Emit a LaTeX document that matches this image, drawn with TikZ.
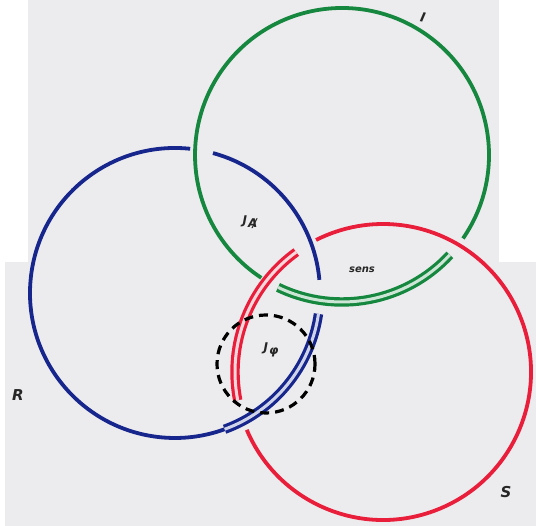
\documentclass[tikz,border=0pt]{standalone}
\usepackage{fontspec}
\newfontfamily\lab{DejaVu Sans}
\definecolor{kgreen}{RGB}{22,135,62}
\definecolor{kblue}{RGB}{22,38,140}
\definecolor{kred}{RGB}{232,30,58}
\definecolor{paper}{RGB}{236,236,238}
\tikzset{
  strand/.style={line width=3.8pt},
  twin/.style={line width=3.2pt, double distance=3pt},
  lbl/.style={inner sep=0pt, text=black!85},
  cutdash/.style={line width=3.2pt, dash pattern=on 9pt off 6pt, black},
}
\begin{document}
\begin{tikzpicture}[x=1pt,y=1pt]
\useasboundingbox (0,0) rectangle (536,526);
\fill[white] (0,0) rectangle (536,526);
\fill[paper] (28,264) rectangle (499,526);
\fill[paper] (5,0) rectangle (536,264);
\coordinate (G) at (342,371);
\coordinate (B) at (175,233);
\coordinate (R) at (383,154);
\coordinate (D) at (266,162);

% green ring (I)
\draw[strand,kgreen] ([shift={(-34.6:147)}]G) arc[start angle=-34.6,end angle=236.7,radius=147];
\draw[twin,draw=kgreen,double=kgreen!22!white] ([shift={(244.2:147)}]G) arc[start angle=244.2,end angle=317.2,radius=147];

% blue ring (R)
\draw[strand,kblue] ([shift={(5.2:145)}]B) arc[start angle=5.2,end angle=74.8,radius=145];
\draw[strand,kblue] ([shift={(84:145)}]B) arc[start angle=84,end angle=290,radius=145];
\draw[twin,draw=kblue,double=kblue!20!white] ([shift={(290:145)}]B) arc[start angle=290,end angle=351.7,radius=145];

% red ring (S)
\draw[strand,kred] ([shift={(203:148)}]R) arc[start angle=203,end angle=476.9,radius=148];
\draw[twin,draw=kred,double=kred!18!white] ([shift={(125.9:148)}]R) arc[start angle=125.9,end angle=191,radius=148];

% dashed circle
\draw[cutdash] (D) circle[radius=49];

% labels
\node[lbl,font=\lab\bfseries\itshape\fontsize{15}{15}\selectfont] (lR) at (18,131) {R};
\node[lbl,font=\lab\bfseries\itshape\fontsize{15}{15}\selectfont] (lS) at (506,34) {S};
\node[lbl,font=\lab\bfseries\itshape\fontsize{13}{13}\selectfont,rotate=-12] (lI) at (423,509) {I};
\node[lbl,font=\lab\bfseries\itshape\fontsize{10}{10}\selectfont] (lsens) at (362,256) {sens};
\node[lbl,font=\lab\bfseries\itshape\fontsize{12}{12}\selectfont] (lJA) at (250,304) {J\kern1pt\raisebox{-3pt}{\fontsize{12}{12}\selectfont A\llap{/\kern0.5pt}}};
\node[lbl,font=\lab\bfseries\itshape\fontsize{12}{12}\selectfont] (lJP) at (271,176) {J\kern1pt\raisebox{-3pt}{\fontsize{12}{12}\selectfont φ}};
\end{tikzpicture}
\end{document}
